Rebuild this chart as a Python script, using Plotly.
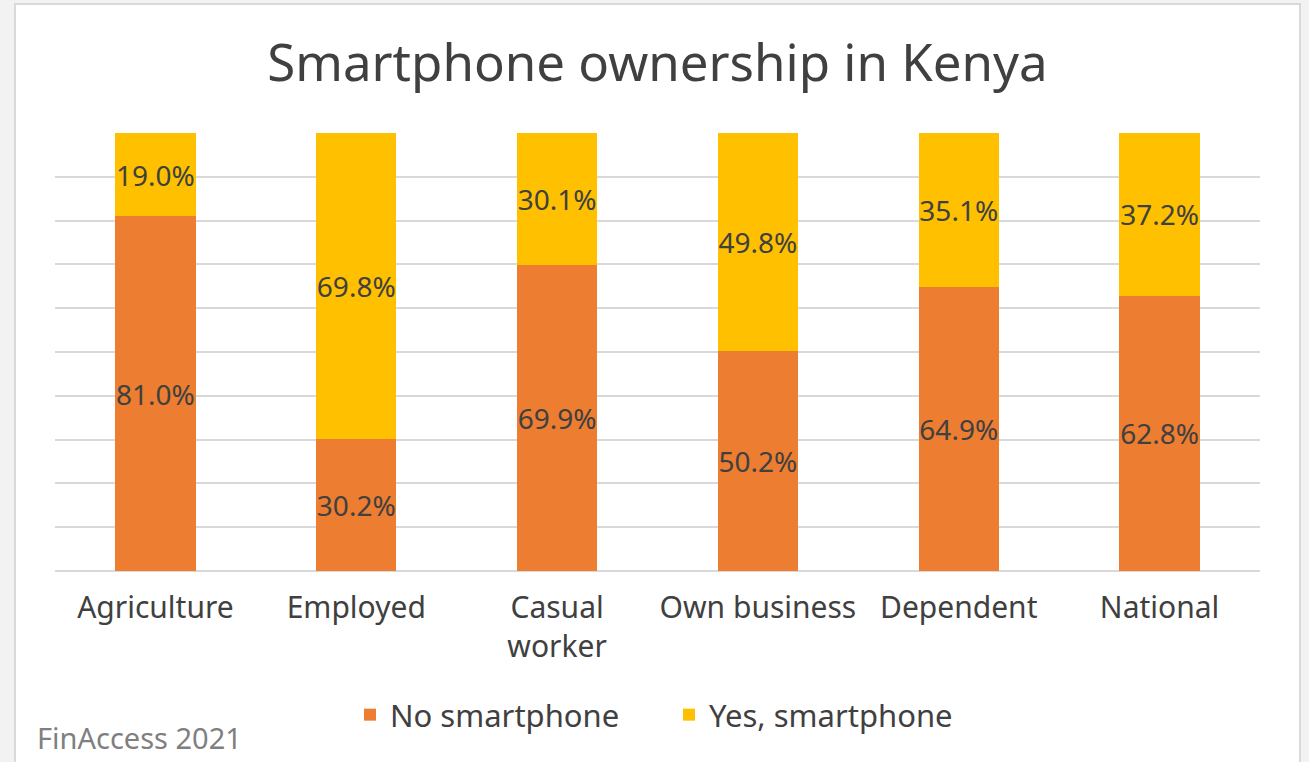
import plotly.graph_objects as go

categories = ["Agriculture", "Employed", "Casual<br>worker", "Own business", "Dependent", "National"]
no_smartphone = [81.0, 30.2, 69.9, 50.2, 64.9, 62.8]
yes_smartphone = [19.0, 69.8, 30.1, 49.8, 35.1, 37.2]
series_names = ["No smartphone", "Yes, smartphone"]
title_text = "Smartphone ownership in Kenya"
source_text = "FinAccess 2021"

W, H = 1309, 762
L, R, T, B = 55, 49, 133, 191
pw, ph = W - L - R, H - T - B

def px_x(x):
    return (x - L) / pw

def px_y(y):
    return (H - B - y) / ph

FONT = "Noto Sans"
fig = go.Figure()
for name, vals, col in [(series_names[0], no_smartphone, "#ED7D31"),
                        (series_names[1], yes_smartphone, "#FFC000")]:
    fig.add_trace(go.Bar(
        x=categories, y=vals, name=name, marker_color=col,
        marker_line_width=0,
        texttemplate="%{y:.1f}%", textposition="inside",
        insidetextanchor="middle", textangle=0, constraintext="none",
        textfont=dict(family=FONT, size=28, color="#404040"),
    ))

fig.update_layout(
    width=W, height=H, barmode="stack", bargap=0.6,
    margin=dict(l=L, r=R, t=T, b=B),
    paper_bgcolor="#f2f2f2", plot_bgcolor="white",
    title=dict(text=title_text, x=0.5, xref="paper", xanchor="center",
               y=1 - 63 / H, yanchor="middle",
               font=dict(family=FONT, size=51, color="#404040")),
    showlegend=True,
    legend=dict(orientation="h", x=px_x(350), xanchor="left", y=px_y(715), yanchor="middle",
                font=dict(family=FONT, size=31, color="#404040"),
                itemwidth=30, entrywidth=274, entrywidthmode="pixels",
                traceorder="normal", bgcolor="rgba(0,0,0,0)"),
    xaxis=dict(showgrid=False, showline=False, zeroline=False,
               ticks="outside", ticklen=10, tickcolor="rgba(0,0,0,0)",
               tickfont=dict(family=FONT, size=30, color="#404040")),
    yaxis=dict(range=[0, 100], dtick=10, showgrid=True, gridcolor="#d9d9d9", gridwidth=2,
               showticklabels=False, zeroline=True, zerolinecolor="#d9d9d9", zerolinewidth=2,
               showline=False),
    shapes=[dict(type="rect", xref="paper", yref="paper",
                 x0=px_x(15), x1=px_x(1300), y0=px_y(770), y1=px_y(4),
                 fillcolor="white", line=dict(color="#d9d9d9", width=2), layer="below")],
    annotations=[dict(text=source_text, xref="paper", yref="paper", x=px_x(35), y=px_y(737),
                      xanchor="left", yanchor="middle", showarrow=False,
                      font=dict(family=FONT, size=29, color="#7f7f7f"))],
)

fig.write_html("out.html", config={"displayModeBar": False},
               post_script="document.body.style.margin='0';")
